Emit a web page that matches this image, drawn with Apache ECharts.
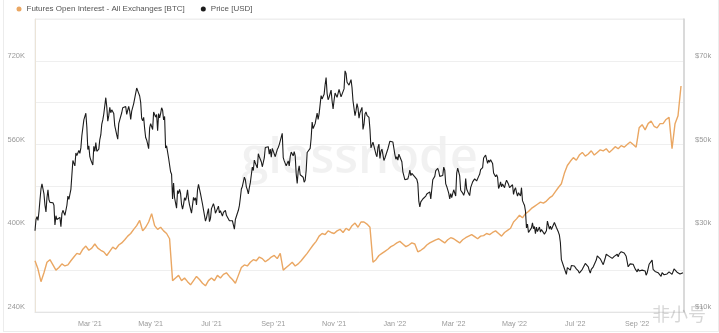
<!DOCTYPE html>
<html>
<head>
<meta charset="utf-8">
<script src="https://cdn.jsdelivr.net/npm/echarts@6/dist/echarts.min.js"></script>
<style>
html,body{margin:0;padding:0;background:#fff;overflow:hidden;}
#frame{position:absolute;left:3px;top:-2px;width:716px;height:334px;border:1px solid #ececec;box-sizing:border-box;}
#chart{position:absolute;left:0;top:0;width:719px;height:333px;}
</style>
</head>
<body>
<div id="frame"></div>
<div id="chart"></div>
<script>
// Series start on 2021-01-01 (UTC), one price value per day.
const startDate = Date.UTC(2021, 0, 1);
const DAY = 86400000;

// BTC price, daily close in thousands of USD
const price = [
// 2021 Jan
29.4,32.1,32.8,31.9,34.0,36.8,39.4,40.6,40.2,38.2,35.5,33.9,37.3,39.2,36.8,36.2,35.8,36.6,36.1,35.5,30.8,33.0,32.1,32.3,32.4,32.6,30.4,33.5,34.3,34.3,33.1,
// Feb
33.5,35.5,37.7,36.9,38.1,39.3,38.9,46.2,46.5,44.9,48.0,47.4,47.2,48.6,47.9,49.2,52.1,51.7,55.9,55.9,57.5,54.2,48.8,49.7,47.1,46.3,46.2,45.1,
// Mar
49.6,48.4,50.5,48.4,48.8,48.9,51.2,52.3,54.9,55.9,57.3,57.2,61.2,59.0,55.6,56.9,58.9,57.6,58.3,58.1,57.4,54.5,54.3,52.3,51.3,55.0,55.9,55.8,57.6,58.8,58.9,
// Apr
59.0,59.1,57.2,58.2,59.1,58.0,56.0,58.0,58.1,59.8,60.0,59.9,63.5,62.9,63.2,61.6,60.1,56.3,55.7,56.5,53.8,51.7,51.1,50.1,49.0,54.0,55.0,54.9,53.6,57.8,
// May
57.8,56.6,57.2,53.3,57.4,56.4,57.4,58.8,58.2,55.9,56.7,49.2,49.7,49.9,46.8,46.7,43.5,42.9,37.0,40.8,37.3,37.5,34.8,39.0,38.3,39.3,38.4,35.7,34.6,35.7,37.3,
// Jun
36.7,37.6,39.2,36.9,35.6,35.8,33.6,33.4,37.4,36.7,37.3,35.6,39.1,40.5,40.1,38.3,38.1,35.8,35.5,35.6,31.7,32.5,33.7,34.7,31.6,32.3,34.7,34.5,35.9,35.0,
// Jul
33.6,33.9,34.7,35.3,33.7,34.2,33.9,32.9,33.8,33.5,34.3,33.1,32.7,32.8,31.8,31.4,31.5,31.8,30.8,29.8,32.1,32.3,33.6,34.3,35.4,37.3,39.4,40.0,40.0,42.2,41.6,
// Aug
39.9,39.2,38.2,39.7,40.9,42.8,44.6,43.8,46.3,45.6,45.6,44.4,47.8,47.1,47.0,45.9,44.7,44.6,46.8,49.3,48.9,49.3,49.5,47.7,48.9,47.0,49.1,48.9,48.8,47.1,47.2,
// Sep
48.8,49.3,50.0,49.9,51.8,52.7,46.9,46.1,46.4,44.9,45.2,46.1,44.9,47.1,48.2,47.8,47.3,48.3,47.3,43.0,40.7,43.6,44.9,42.8,42.7,43.2,42.2,41.0,41.5,43.8,
// Oct
48.1,47.7,48.2,49.1,51.5,55.4,53.8,53.9,55.0,54.7,57.5,56.0,57.4,57.4,61.7,60.9,61.5,62.0,64.3,66.0,62.2,60.7,61.3,60.9,63.0,60.4,58.5,60.6,62.3,61.9,61.3,
// Nov
61.0,63.2,62.9,61.4,61.0,61.5,63.3,67.6,67.0,64.9,64.9,64.2,64.5,65.5,63.6,60.4,60.2,56.9,58.1,59.8,58.7,56.3,57.6,57.2,58.9,53.6,54.8,57.3,57.8,57.0,
// Dec
57.2,56.5,53.6,49.2,49.4,50.6,50.6,50.5,47.7,47.1,49.3,50.1,46.7,48.4,48.9,47.6,46.2,46.8,46.7,46.9,49.0,48.6,50.8,50.4,50.8,50.6,50.6,47.6,46.5,47.1,46.3,
// 2022 Jan
47.7,47.3,46.5,45.9,43.5,43.2,41.6,41.8,42.0,41.8,42.7,43.9,42.6,43.1,43.2,43.1,42.3,42.4,41.7,40.7,36.5,35.1,36.3,36.7,37.0,36.9,37.2,37.7,38.2,37.9,38.5,
// Feb
38.7,37.0,37.3,41.6,41.4,42.4,43.8,44.1,44.3,43.6,42.4,42.2,42.1,42.6,44.6,43.9,40.6,40.0,40.1,38.4,37.0,38.3,37.3,38.3,39.2,39.1,37.7,43.2,
// Mar
44.4,44.0,42.5,39.1,39.4,38.4,37.9,38.7,41.9,39.4,38.8,38.9,37.8,39.7,39.3,41.1,40.9,41.8,42.2,41.3,41.0,42.4,42.9,44.0,44.3,44.5,46.8,47.1,47.5,47.1,45.5,
// Apr
46.3,45.8,46.4,46.6,45.5,43.2,43.5,42.3,42.8,42.2,39.5,40.1,41.1,39.9,40.6,40.4,39.7,40.8,41.5,41.4,40.5,39.7,39.5,39.5,40.4,38.1,39.2,39.7,38.6,37.7,
// May
38.5,38.5,37.7,39.7,36.6,36.0,35.5,34.1,30.1,31.0,29.0,28.9,29.3,30.1,31.3,29.9,30.4,28.7,30.3,29.2,29.4,30.3,29.1,29.7,29.5,29.3,28.6,29.0,29.4,31.7,31.8,
// Jun
29.8,30.5,29.7,29.9,29.9,31.4,31.1,30.2,30.1,29.1,28.4,26.6,22.5,22.2,22.6,20.4,20.5,19.0,20.6,20.6,20.7,20.0,21.1,21.2,21.5,21.0,20.7,20.3,20.1,19.8,
// Jul
19.3,19.3,19.3,20.2,20.2,20.6,21.6,21.6,21.6,20.8,19.9,19.3,20.2,20.6,20.8,21.2,20.8,22.4,23.4,23.2,23.2,22.7,22.5,22.6,21.3,21.2,22.9,23.8,23.8,23.6,23.3,
// Aug
23.3,22.9,22.8,22.6,23.3,23.0,23.2,23.8,23.2,23.9,23.9,24.4,24.4,24.3,24.1,23.9,23.3,23.2,20.8,21.2,21.5,21.4,21.5,21.4,21.6,20.3,20.0,19.6,20.3,19.8,20.0,
// Sep
20.1,20.0,19.8,20.0,19.8,18.8,19.3,19.3,21.4,21.7,21.8,22.4,20.2,20.2,19.7,19.8,20.1,19.4,19.5,19.0,18.5,19.4,19.3,18.9,18.8,19.2,19.1,19.4,19.6,19.4,
// Oct
19.3,19.0,19.6,20.3,20.2,19.9,19.5,19.4,19.4,19.1,19.0,19.2,19.4
];

// Futures open interest, all exchanges, thousands of BTC, one value every 3 days
const oiStepDays = 3;
const openInterest = [
338,322,298,315,335,340,330,320,325,332,328,
330,338,345,352,350,360,366,358,362,
370,362,358,355,348,356,364,360,368,372,
378,385,390,398,405,415,395,402,412,428,
405,398,402,395,390,380,300,305,310,300,
305,298,292,300,308,302,295,290,300,305,
300,310,305,312,315,308,302,295,310,325,
330,328,335,340,338,345,342,336,340,345,
348,342,352,320,325,330,335,328,332,338,
345,352,360,368,375,385,390,388,395,392,
390,395,398,392,400,396,405,410,402,412,
412,408,402,335,340,348,352,356,360,365,
368,372,375,370,365,368,372,370,355,358,
362,368,372,375,378,380,376,372,378,382,
380,376,372,378,382,385,388,384,380,385,
386,390,388,392,395,390,385,392,396,400,
412,418,425,420,428,432,438,442,446,450,
448,452,458,462,470,478,485,505,520,528,
535,530,540,545,538,542,548,540,545,550,
548,552,545,550,556,552,558,555,560,565,
560,555,592,598,588,600,605,595,592,600,
600,608,612,552,600,615,672
];

// Axis settings
const xMin = Date.UTC(2021, 0, 1);
const xMax = Date.UTC(2022, 9, 14);
const monthTicks = [
  Date.UTC(2021, 2, 1), Date.UTC(2021, 4, 1), Date.UTC(2021, 6, 1), Date.UTC(2021, 8, 1),
  Date.UTC(2021, 10, 1), Date.UTC(2022, 0, 1), Date.UTC(2022, 2, 1), Date.UTC(2022, 4, 1),
  Date.UTC(2022, 6, 1), Date.UTC(2022, 8, 1)
];
const monthNames = ['Jan','Feb','Mar','Apr','May','Jun','Jul','Aug','Sep','Oct','Nov','Dec'];
const leftAxis = { min: 240, max: 800, step: 80, labelEvery: 160 };
const rightAxis = { min: 10, max: 80, step: 10, labelEvery: 20 };

const seriesNames = ['Futures Open Interest - All Exchanges [BTC]', 'Price [USD]'];
const seriesColors = ['#eaa763', '#1c1c1c'];

const priceData = price.map((v, i) => [startDate + i * DAY, v]);
const oiData = openInterest.map((v, i) => [startDate + i * oiStepDays * DAY, v]);

const FONT = '"Liberation Sans", Arial, sans-serif';
const labelFont = { fontSize: 7.5, color: '#9a9a9a', fontFamily: FONT };

const chart = echarts.init(document.getElementById('chart'), null, { renderer: 'canvas' });
chart.setOption({
  animation: false,
  backgroundColor: 'transparent',
  legend: {
    left: 16.5, top: 5, padding: 0,
    icon: 'circle', itemWidth: 5, itemHeight: 5, itemGap: 16,
    textStyle: { fontSize: 8, color: '#555', fontFamily: FONT },
    data: seriesNames
  },
  grid: {
    left: 35, right: 35, top: 19, bottom: 21,
    show: true, borderColor: '#ececec', borderWidth: 1
  },
  graphic: [
    {
      type: 'text', left: 'center', top: 135, z: 0, silent: true,
      style: { text: 'glassnode', fontSize: 49, fontWeight: 600,
        fontFamily: '"Open Sans", Inter, sans-serif', fill: 'rgba(0,0,0,0.055)' }
    },
    {
      type: 'text', left: 652, top: 305, z: 100, silent: true,
      style: { text: '非小号', fontSize: 18,
        fontFamily: '"Noto Sans CJK SC", sans-serif', fill: 'rgba(140,140,140,0.35)' }
    }
  ],
  xAxis: {
    type: 'value', min: xMin, max: xMax,
    axisLine: { show: true, lineStyle: { color: '#e4e4e4' } },
    axisTick: { show: false },
    splitLine: { show: false },
    axisLabel: Object.assign({}, labelFont, {
      fontSize: 7.2,
      margin: 9,
      customValues: monthTicks,
      padding: [0, 8, 0, 0],
      formatter: v => {
        const d = new Date(v);
        return monthNames[d.getUTCMonth()] + " '" + String(d.getUTCFullYear()).slice(2);
      }
    })
  },
  yAxis: [
    {
      type: 'value', position: 'left',
      min: leftAxis.min, max: leftAxis.max, interval: leftAxis.step,
      axisLine: { show: true, lineStyle: { color: '#ebe4d8' } },
      axisTick: { show: false },
      splitLine: { show: true, lineStyle: { color: '#efefef' } },
      axisLabel: Object.assign({}, labelFont, {
        margin: 10, verticalAlign: 'bottom', lineHeight: 10,
        formatter: v => ((v - leftAxis.min) % leftAxis.labelEvery === 0 && v < leftAxis.max) ? v + 'K' : ''
      })
    },
    {
      type: 'value', position: 'right',
      min: rightAxis.min, max: rightAxis.max, interval: rightAxis.step,
      axisLine: { show: true, lineStyle: { color: '#d2d2d2', width: 1.5 } },
      axisTick: { show: false },
      splitLine: { show: false },
      axisLabel: Object.assign({}, labelFont, {
        margin: 11, verticalAlign: 'bottom', lineHeight: 10,
        formatter: v => ((v - rightAxis.min) % rightAxis.labelEvery === 0 && v < rightAxis.max) ? '$' + v + 'k' : ''
      })
    }
  ],
  series: [
    {
      name: seriesNames[0], type: 'line', yAxisIndex: 0, data: oiData,
      showSymbol: false, symbol: 'none', z: 2,
      lineStyle: { color: seriesColors[0], width: 1.4 },
      itemStyle: { color: seriesColors[0] }
    },
    {
      name: seriesNames[1], type: 'line', yAxisIndex: 1, data: priceData,
      showSymbol: false, symbol: 'none', z: 3,
      lineStyle: { color: seriesColors[1], width: 1.1 },
      itemStyle: { color: seriesColors[1] }
    }
  ]
});
</script>
</body>
</html>
